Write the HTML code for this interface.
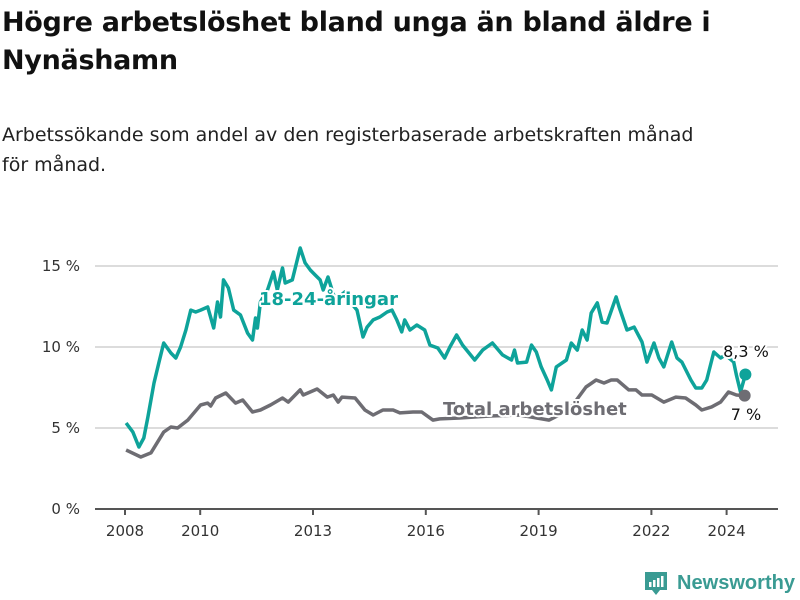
<!DOCTYPE html>
<html><head><meta charset="utf-8"><style>
body{margin:0;background:#fff;font-family:"Liberation Sans","DejaVu Sans",sans-serif}
#wrap{position:relative;width:800px;height:600px;overflow:hidden}
h1{position:absolute;left:2px;top:4px;margin:0;font-size:27px;line-height:38px;font-weight:bold;color:#111;font-family:"DejaVu Sans","Liberation Sans",sans-serif;letter-spacing:-0.3px}
p{position:absolute;left:2px;top:120px;margin:0;font-size:19px;line-height:30px;color:#222;width:700px;font-family:"DejaVu Sans","Liberation Sans",sans-serif}
svg{position:absolute;left:0;top:0}
</style></head><body><div id="wrap">
<h1>Högre arbetslöshet bland unga än bland äldre i Nynäshamn</h1>
<p>Arbetssökande som andel av den registerbaserade arbetskraften månad för månad.</p>
<svg id="chart" width="800" height="600"></svg>
</div>
<script>
const yTicks=[0,5,10,15];
const yTickLabels=["0 %","5 %","10 %","15 %"];
const xTicks=[2008,2010,2013,2016,2019,2022,2024];
const youthDates=[2008.03,2008.21,2008.37,2008.5,2008.61,2008.77,2008.9,2009.03,2009.22,2009.35,2009.48,2009.62,2009.75,2009.88,2010.01,2010.2,2010.36,2010.46,2010.54,2010.62,2010.75,2010.89,2011.07,2011.26,2011.39,2011.47,2011.52,2011.6,2011.79,2011.95,2012.05,2012.19,2012.26,2012.45,2012.66,2012.79,2012.93,2013.06,2013.19,2013.27,2013.4,2013.59,2013.85,2013.99,2014.17,2014.33,2014.44,2014.6,2014.78,2014.97,2015.1,2015.23,2015.36,2015.44,2015.58,2015.76,2015.97,2016.11,2016.32,2016.5,2016.64,2016.82,2016.98,2017.3,2017.51,2017.77,2018.04,2018.28,2018.36,2018.44,2018.68,2018.81,2018.94,2019.07,2019.23,2019.34,2019.47,2019.74,2019.87,2020.03,2020.16,2020.29,2020.4,2020.56,2020.69,2020.82,2021.06,2021.14,2021.35,2021.54,2021.75,2021.88,2022.07,2022.2,2022.33,2022.54,2022.68,2022.81,2023.05,2023.18,2023.34,2023.47,2023.66,2023.84,2023.97,2024.19,2024.26,2024.37,2024.5];
const youthValues=[5.31,4.75,3.83,4.38,5.68,7.78,9.01,10.25,9.63,9.32,10.0,11.05,12.28,12.16,12.28,12.47,11.17,12.78,11.85,14.14,13.64,12.28,11.98,10.86,10.43,11.79,11.17,12.78,13.52,14.63,13.52,14.88,13.95,14.14,16.11,15.19,14.75,14.44,14.14,13.52,14.32,12.9,13.4,12.78,12.28,10.62,11.23,11.67,11.85,12.16,12.28,11.67,10.93,11.67,11.05,11.36,11.05,10.12,9.94,9.32,10.0,10.74,10.12,9.2,9.81,10.25,9.51,9.2,9.81,9.01,9.07,10.12,9.69,8.77,7.96,7.35,8.77,9.2,10.25,9.81,11.05,10.43,12.1,12.72,11.54,11.48,13.09,12.47,11.05,11.23,10.31,9.07,10.25,9.32,8.77,10.31,9.32,9.07,7.96,7.47,7.47,7.96,9.69,9.32,9.51,9.07,8.27,7.22,8.3];
const totalDates=[2008.03,2008.42,2008.69,2009.03,2009.22,2009.4,2009.67,2010.01,2010.2,2010.28,2010.41,2010.68,2010.94,2011.13,2011.39,2011.6,2011.87,2012.19,2012.34,2012.66,2012.74,2013.11,2013.38,2013.54,2013.67,2013.77,2014.12,2014.38,2014.6,2014.86,2015.13,2015.31,2015.66,2015.89,2016.19,2016.37,2016.9,2017.7,2018.49,2019.28,2019.81,2020.26,2020.53,2020.74,2020.93,2021.09,2021.4,2021.59,2021.75,2022.01,2022.33,2022.65,2022.91,2023.18,2023.34,2023.6,2023.84,2024.05,2024.26,2024.48];
const totalValues=[3.64,3.21,3.46,4.75,5.06,5.0,5.49,6.42,6.54,6.36,6.85,7.16,6.54,6.73,5.99,6.11,6.42,6.85,6.6,7.35,7.04,7.41,6.91,7.04,6.6,6.91,6.85,6.11,5.8,6.11,6.11,5.93,5.99,5.99,5.49,5.56,5.62,5.74,5.8,5.49,6.11,7.53,7.96,7.78,7.96,7.96,7.35,7.35,7.04,7.04,6.6,6.91,6.85,6.42,6.11,6.3,6.6,7.22,7.04,7.0];
const youthEndLabel="8,3 %";
const totalEndLabel="7 %";

const svg=document.getElementById('chart');
const NS='http://www.w3.org/2000/svg';
const X=t=>125+(t-2008)*37.6;
const Y=v=>509-v*16.2;
function mk(tag,attrs,parent){const e=document.createElementNS(NS,tag);for(const k in attrs)e.setAttribute(k,attrs[k]);(parent||svg).appendChild(e);return e;}
const font='"DejaVu Sans","Liberation Sans",sans-serif';

yTicks.forEach((v,i)=>{
  if(v>0){const g=mk('line',{x1:95,x2:778,y1:Y(v),y2:Y(v),stroke:'#dcdcdc','stroke-width':2});
  
  }
  const t=mk('text',{x:80,y:Y(v)+5,'text-anchor':'end','font-size':15,fill:'#333','font-family':font});
  t.textContent=yTickLabels[i];
  
  
});
const ax=mk('line',{x1:95,x2:778,y1:Y(0),y2:Y(0),stroke:'#555','stroke-width':2});


xTicks.forEach(yr=>{
  const tk=mk('line',{x1:X(yr),x2:X(yr),y1:509,y2:515,stroke:'#555','stroke-width':2});
  
  
  const t=mk('text',{x:X(yr),y:536,'text-anchor':'middle','font-size':15,fill:'#333','font-family':font});
  t.textContent=yr;
  
  
});
function path(d,v){return d.map((t,i)=>(i?'L':'M')+X(t).toFixed(1)+','+Y(v[i]).toFixed(1)).join('');}
const tl=mk('path',{d:path(totalDates,totalValues),fill:'none',stroke:'#6e6d73','stroke-width':3.5,'stroke-linejoin':'round'});


const yl=mk('path',{d:path(youthDates,youthValues),fill:'none',stroke:'#0ea39a','stroke-width':3.5,'stroke-linejoin':'round'});


const td=mk('circle',{cx:X(totalDates[totalDates.length-1]),cy:Y(totalValues[totalValues.length-1]),r:6,fill:'#6e6d73'});


const yd=mk('circle',{cx:X(youthDates[youthDates.length-1]),cy:Y(youthValues[youthValues.length-1]),r:6,fill:'#0ea39a'});


function label(txt,x,y,fill,name,bold,anchor){
  const t=mk('text',{x:x,y:y,'font-size':bold?18:16,'font-weight':bold?'bold':'normal',fill:fill,stroke:'#fff','stroke-width':4,'paint-order':'stroke','stroke-linejoin':'round','font-family':font,'text-anchor':anchor||'start'});
  t.textContent=txt;
  
  
}
label('18-24-åringar',259,305,'#0ea39a','youth-series-label',true);
label('Total arbetslöshet',443,415,'#6e6d73','total-series-label',true);
label(youthEndLabel,746,357,'#111','youth-end-value',false,'middle');
label(totalEndLabel,746,420,'#111','total-end-value',false,'middle');

// logo
const lg=mk('g',{});


mk('path',{d:'M645,572 h22 v18 h-7 l-4,5 l-4,-5 h-7 z',fill:'#3a9b93'},lg);
mk('rect',{x:649,y:582,width:2.5,height:5,fill:'#fff'},lg);
mk('rect',{x:653,y:580,width:2.5,height:7,fill:'#fff'},lg);
mk('rect',{x:657,y:578,width:2.5,height:9,fill:'#fff'},lg);
mk('rect',{x:661,y:576,width:2.5,height:11,fill:'#fff'},lg);
const lt=mk('text',{x:677,y:589,'font-size':20,fill:'#3a9b93','font-family':'"Liberation Sans",sans-serif','font-weight':'bold','textLength':118,'lengthAdjust':'spacingAndGlyphs'},lg);
lt.textContent='Newsworthy';
</script></body></html>
